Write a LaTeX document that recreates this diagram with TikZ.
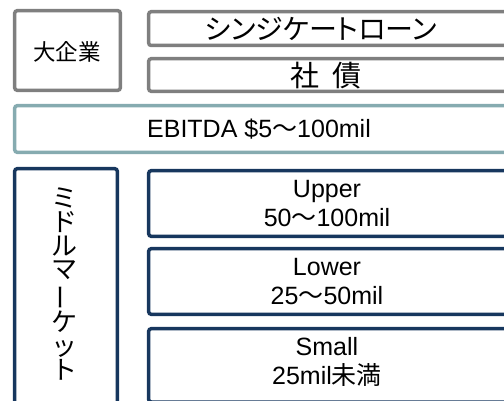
\documentclass[tikz,border=0pt]{standalone}
\usepackage{fontspec}
\setmainfont{Liberation Sans}
\newfontfamily\jp{Noto Sans CJK JP}
\newfontfamily\jpp[RawFeature=+palt]{Noto Sans CJK JP}
\usepackage{graphicx}
\definecolor{boxgray}{HTML}{7F7F7F}
\definecolor{boxteal}{HTML}{86ABB0}
\definecolor{boxnavy}{HTML}{17375E}
\tikzset{
  basebox/.style={line width=3.5pt, rounded corners=2.5pt, fill=white},
  graybox/.style={basebox, draw=boxgray},
  tealbox/.style={basebox, draw=boxteal},
  navybox/.style={basebox, draw=boxnavy},
  lbl/.style={inner sep=0pt, text=black, font=\fontsize{25}{29}\selectfont, align=center},
}
\begin{document}
\begin{tikzpicture}[x=1pt,y=-1pt]
\useasboundingbox (0,0) rectangle (504,401);
\clip (0,0) rectangle (504,401);
% top section
\draw[graybox] (14.7,10.7) rectangle (120.3,90.3);
\node[lbl, font=\jp\fontsize{22.5}{26}\selectfont] (big) at (67,52) {大企業};
\draw[graybox] (148.7,11.7) rectangle (530,45.5);
\node[lbl, font=\jpp\fontsize{28}{30}\selectfont] (synd) at (321,28.5) {シンジケートローン};
\draw[graybox] (148.7,58.7) rectangle (530,91.3);
\node[lbl, font=\jp\fontsize{29}{30}\selectfont] (bond) at (326,76) {社\hspace{0.45em}債};
% EBITDA
\draw[tealbox] (14.7,105.7) rectangle (530,152.3);
\node[lbl] (ebitda) at (259,129) {EBITDA \$5{\jp 〜}100mil};
% middle market
\draw[navybox] (14.7,168.7) rectangle (117.3,430);
\node[lbl, font=\jp\fontsize{26}{23.8}\selectfont] (mm) at (65,284)
  {ミ\\ド\\ル\\マ\\\rotatebox[origin=c]{90}{ー}\\ケ\\ッ\\ト};
\draw[navybox] (148.7,170.7) rectangle (530,236.3);
\node[lbl] (upper) at (327,204) {Upper\\50{\jp 〜}100mil};
\draw[navybox] (148.7,248.7) rectangle (530,314.3);
\node[lbl] (lower) at (327,282) {Lower\\25{\jp 〜}50mil};
\draw[navybox] (148.7,328.7) rectangle (530,402);
\node[lbl] (small) at (327,362) {Small\\25mil{\jp 未満}};
\end{tikzpicture}
\end{document}
